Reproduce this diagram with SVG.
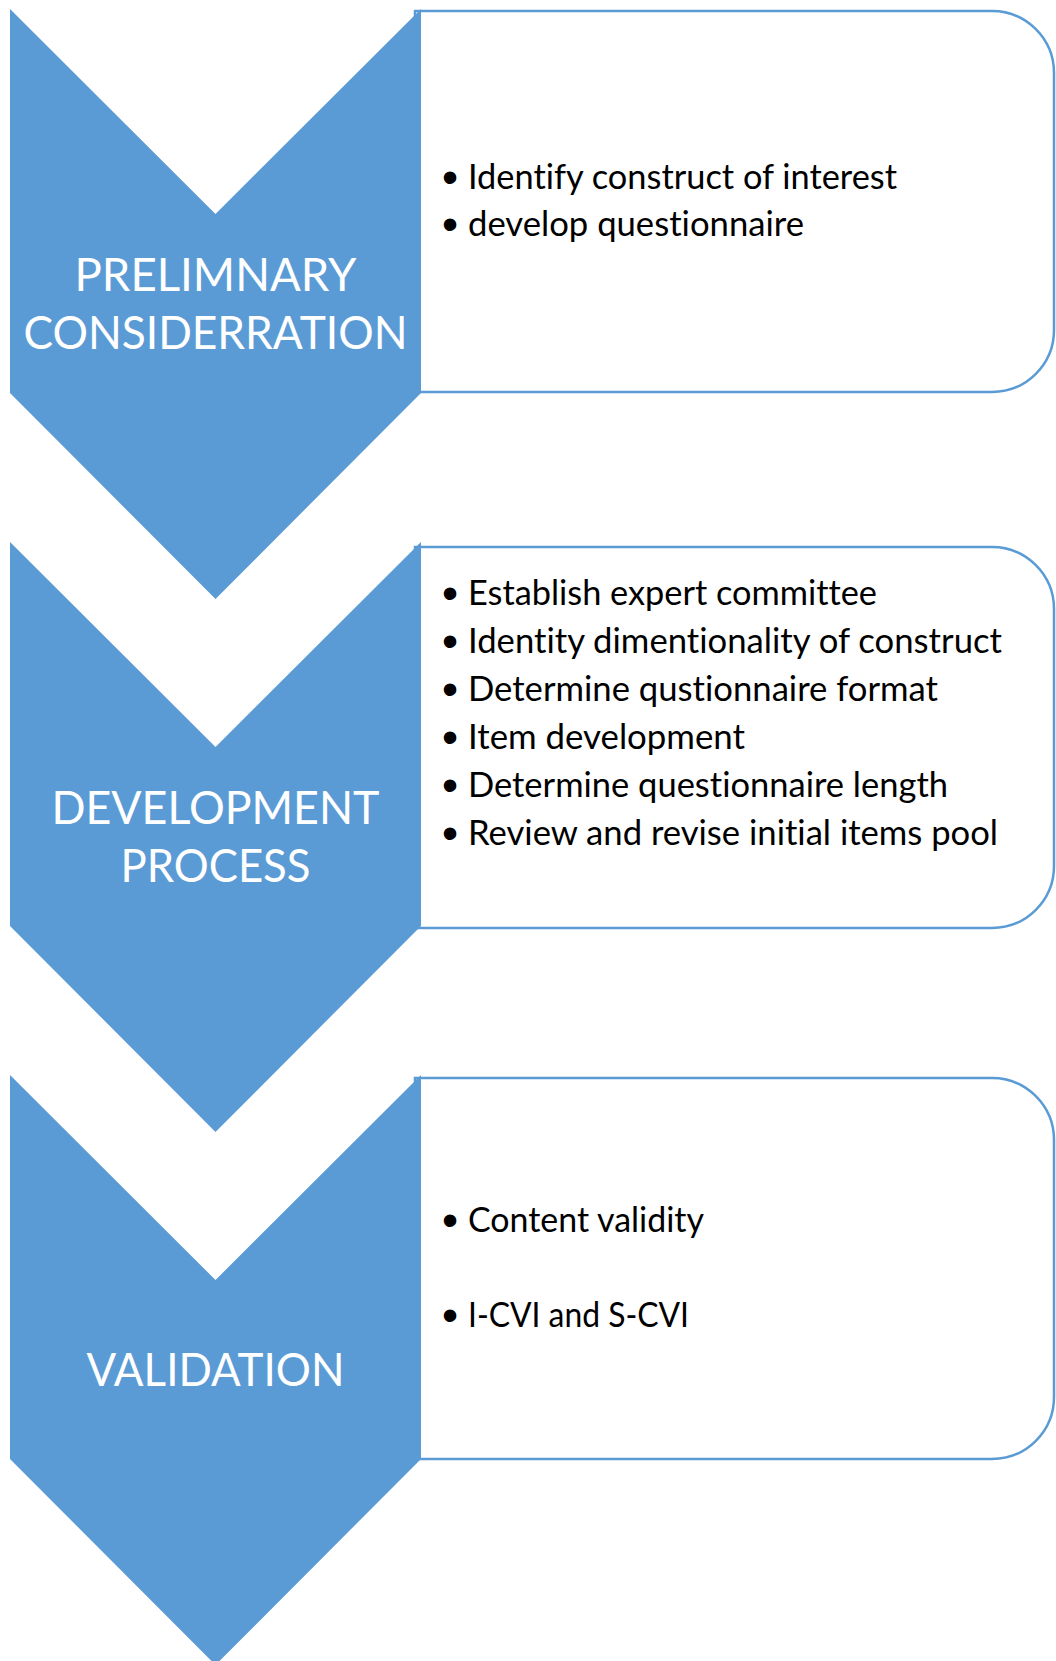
<svg xmlns="http://www.w3.org/2000/svg" width="1056" height="1661" viewBox="0 0 1056 1661">
  <style>
    .chev { fill: #5B9BD5; }
    .box { fill: #FFFFFF; stroke: #5B9BD5; stroke-width: 2.5; }
    .label { font-family: Lato, "Liberation Sans", sans-serif; font-size: 46px; fill: #FFFFFF; text-anchor: middle; font-variant-ligatures: none; }
    .item { font-family: Lato, "Liberation Sans", sans-serif; font-size: 34px; fill: #000000; font-variant-ligatures: none; }
    .dot { font-family: "Liberation Sans", sans-serif; font-size: 46px; fill: #000000; }
  </style>
  <rect width="1056" height="1661" fill="#FFFFFF"/>

  <!-- Stage 1 -->
  <g id="stage-preliminary">
    <path class="box" d="M415,11 H992 A62,62 0 0 1 1054,73 V330 A62,62 0 0 1 992,392 H415 Z"/>
    <path class="chev" d="M10,9 L215.5,214 L421,9 V393 L215.5,599 L10,393 Z"/>
    <text class="label" x="215.5" y="291" textLength="282" lengthAdjust="spacingAndGlyphs">PRELIMNARY</text>
    <text class="label" x="215.5" y="349" textLength="384" lengthAdjust="spacingAndGlyphs">CONSIDERRATION</text>
    <text class="dot" x="442" y="193">•</text>
    <text class="item" x="468" y="189" textLength="429" lengthAdjust="spacingAndGlyphs">Identify construct of interest</text>
    <text class="dot" x="442" y="240">•</text>
    <text class="item" x="468" y="236" textLength="336" lengthAdjust="spacingAndGlyphs">develop questionnaire</text>
  </g>

  <!-- Stage 2 -->
  <g id="stage-development">
    <path class="box" d="M415,547 H992 A62,62 0 0 1 1054,609 V866 A62,62 0 0 1 992,928 H415 Z"/>
    <path class="chev" d="M10,542 L215.5,747 L421,542 V926 L215.5,1132 L10,926 Z"/>
    <text class="label" x="215.5" y="824" textLength="328" lengthAdjust="spacingAndGlyphs">DEVELOPMENT</text>
    <text class="label" x="215.5" y="882" textLength="190" lengthAdjust="spacingAndGlyphs">PROCESS</text>
    <text class="dot" x="442" y="609">•</text>
    <text class="item" x="468" y="605" textLength="409" lengthAdjust="spacingAndGlyphs">Establish expert committee</text>
    <text class="dot" x="442" y="657">•</text>
    <text class="item" x="468" y="653" textLength="534" lengthAdjust="spacingAndGlyphs">Identity dimentionality of construct</text>
    <text class="dot" x="442" y="705">•</text>
    <text class="item" x="468" y="701" textLength="470" lengthAdjust="spacingAndGlyphs">Determine qustionnaire format</text>
    <text class="dot" x="442" y="753">•</text>
    <text class="item" x="468" y="749" textLength="277" lengthAdjust="spacingAndGlyphs">Item development</text>
    <text class="dot" x="442" y="801">•</text>
    <text class="item" x="468" y="797" textLength="480" lengthAdjust="spacingAndGlyphs">Determine questionnaire length</text>
    <text class="dot" x="442" y="849">•</text>
    <text class="item" x="468" y="845" textLength="530" lengthAdjust="spacingAndGlyphs">Review and revise initial items pool</text>
  </g>

  <!-- Stage 3 -->
  <g id="stage-validation">
    <path class="box" d="M415,1078 H992 A62,62 0 0 1 1054,1140 V1397 A62,62 0 0 1 992,1459 H415 Z"/>
    <path class="chev" d="M10,1075 L215.5,1280 L421,1075 V1459 L215.5,1665 L10,1459 Z"/>
    <text class="label" x="215.5" y="1386" textLength="258" lengthAdjust="spacingAndGlyphs">VALIDATION</text>
    <text class="dot" x="442" y="1236">•</text>
    <text class="item" x="468" y="1232" textLength="236" lengthAdjust="spacingAndGlyphs">Content validity</text>
    <text class="dot" x="442" y="1331">•</text>
    <text class="item" x="468" y="1327" textLength="221" lengthAdjust="spacingAndGlyphs">I-CVI and S-CVI</text>
  </g>

  <!-- the stages are stacked directly; no separate connector lines are drawn -->
  <g id="connectors"/>
</svg>
